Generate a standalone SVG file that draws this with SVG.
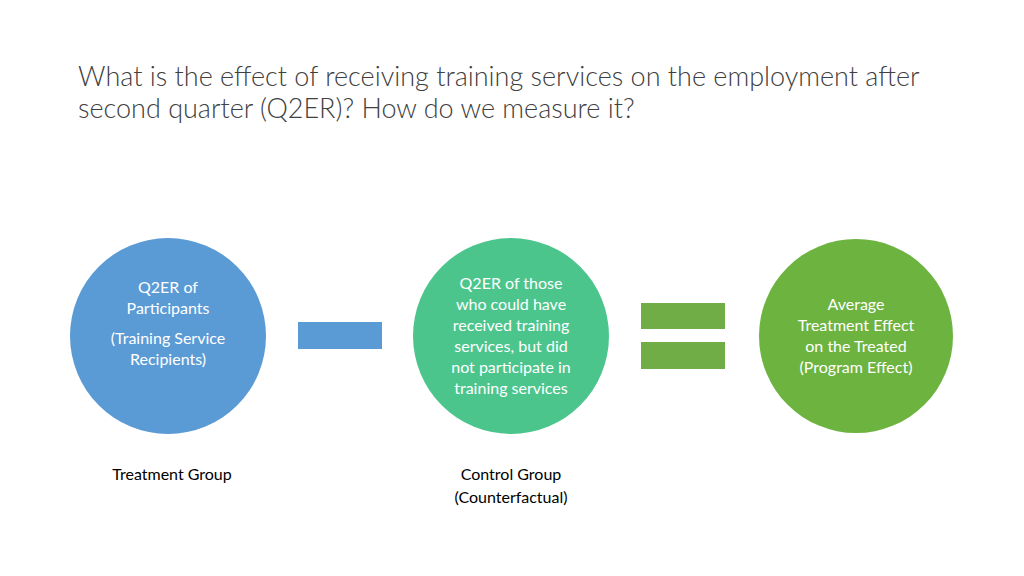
<svg xmlns="http://www.w3.org/2000/svg" width="1024" height="576" viewBox="0 0 1024 576">
<style>
.t{font-family:Lato,"Open Sans",sans-serif;font-weight:300;font-size:27px;fill:#404040}
.c{font-family:Lato,"Open Sans",sans-serif;font-size:16px;fill:#fff;text-anchor:middle}
.l{font-family:Lato,"Open Sans",sans-serif;font-size:16px;fill:#000;text-anchor:middle}
</style>
<rect width="1024" height="576" fill="#fff"/>
<text class="t" x="78" y="86">What is the effect of receiving training services on the employment after</text>
<text class="t" x="78" y="118">second quarter (Q2ER)?   How do we measure it?</text>
<g id="treatment">
<circle cx="168" cy="336" r="98" fill="#5B9BD5"/>
<text class="c" x="168" y="293">Q2ER of</text>
<text class="c" x="168" y="314">Participants</text>
<text class="c" x="168" y="344">(Training Service</text>
<text class="c" x="168" y="365">Recipients)</text>
</g>
<g id="control">
<circle cx="511" cy="336" r="98" fill="#4CC58D"/>
<text class="c" x="511" y="289">Q2ER of those</text>
<text class="c" x="511" y="310">who could have</text>
<text class="c" x="511" y="331">received training</text>
<text class="c" x="511" y="352">services, but did</text>
<text class="c" x="511" y="373">not participate in</text>
<text class="c" x="511" y="394">training services</text>
</g>
<g id="effect">
<circle cx="856" cy="336" r="97" fill="#6DB33F"/>
<text class="c" x="856" y="310">Average</text>
<text class="c" x="856" y="331">Treatment Effect</text>
<text class="c" x="856" y="352">on the Treated</text>
<text class="c" x="856" y="373">(Program Effect)</text>
</g>
<g id="operators">
<rect x="298" y="322" width="84" height="27" fill="#5B9BD5"/>
<rect x="641" y="303" width="84" height="26" fill="#70AD47"/>
<rect x="641" y="342" width="84" height="27" fill="#70AD47"/>
</g>
<g id="labels">
<text class="l" x="172" y="480">Treatment Group</text>
<text class="l" x="511" y="480">Control Group</text>
<text class="l" x="511" y="503">(Counterfactual)</text>
</g>
</svg>
